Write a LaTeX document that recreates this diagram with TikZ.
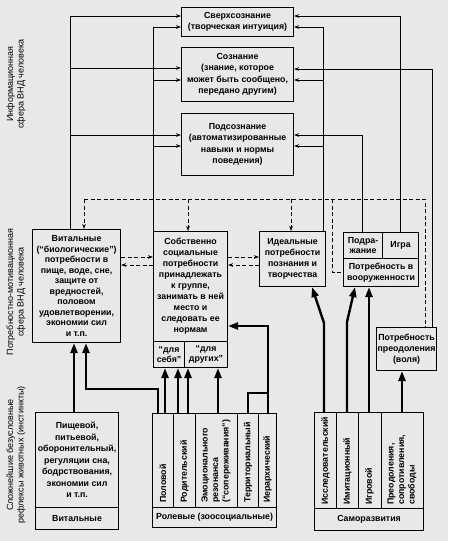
\documentclass[tikz,border=0pt]{standalone}
\usepackage{fontspec}
\setmainfont{Liberation Sans}
\usetikzlibrary{arrows.meta}
\newcommand\dgf[1]{\fontsize{8.8}{#1}\selectfont\bfseries}
\begin{document}
\begin{tikzpicture}[x=1pt,y=-1pt,
  box/.style={draw,line width=1.1pt,anchor=north west,inner sep=0pt,align=center,font={\dgf{10.5}}},
  rot/.style={rotate=90,anchor=west,inner sep=0pt,align=left,font={\dgf{10.5}}},
  side/.style={rotate=90,inner sep=0pt,align=center,font={\fontsize{9}{10.5}\selectfont}},
  conn/.style={line width=0.8pt,-{Stealth[length=5pt,width=3.6pt]}},
  dsh/.style={line width=0.8pt,dash pattern=on 4pt off 2.5pt},
  dsharr/.style={dsh,-{Stealth[length=5pt,width=3.6pt]}},
  thk/.style={line width=2.4pt,-{Triangle[length=10pt,width=7pt]}},
  thkline/.style={line width=2.4pt}]
\useasboundingbox[fill=black!9] (0,0) rectangle (448,541);

% upper (information) boxes
\node[box,font={\dgf{11.5}},minimum width=112pt,minimum height=29pt] (sup) at (181,7) {Сверхсознание\\(творческая интуиция)};
\node[box,font={\dgf{11.5}},minimum width=112pt,minimum height=54pt] (con) at (181,47) {Сознание\\(знание, которое\\может быть сообщено,\\передано другим)};
\node[box,font={\dgf{11.5}},minimum width=112pt,minimum height=62pt] (sub) at (181,113) {Подсознание\\(автоматизированные\\навыки и нормы\\поведения)};

% need boxes
\node[box,minimum width=88pt,minimum height=113pt] (vit) at (32,229) {Витальные\\(“биологические”)\\потребности в\\пище, воде, сне,\\защите от\\вредностей,\\половом\\удовлетворении,\\экономии сил\\и т.п.};
\node[box,font={\dgf{11}},minimum width=74pt,minimum height=110pt] (soc) at (153,231) {Собственно\\социальные\\потребности\\принадлежать\\к группе,\\занимать в ней\\место и\\следовать ее\\нормам};
\node[box,minimum width=31pt,minimum height=26pt] (ds) at (153,341) {“для\\себя”};
\node[box,minimum width=43pt,minimum height=26pt] (dd) at (184,341) {“для\\других”};
\node[box,font={\dgf{11}},minimum width=66pt,minimum height=55pt] (ide) at (259,231) {Идеальные\\потребности\\познания и\\творчества};
\node[box,minimum width=39pt,minimum height=26pt] (podr) at (343,232) {Подра-\\жание};
\node[box,minimum width=36pt,minimum height=26pt] (igra) at (382,232) {Игра};
\node[box,minimum width=75pt,minimum height=28pt] (voor) at (343,258) {Потребность в\\вооруженности};
\node[box,font={\dgf{11}},minimum width=60pt,minimum height=43pt] (preo) at (376,327) {Потребность\\преодоления\\(воля)};

% instinct boxes
\node[box,font={\dgf{11.5}},minimum width=83pt,minimum height=95pt] (inst) at (35,412) {Пищевой,\\питьевой,\\оборонительный,\\регуляции сна,\\бодрствования,\\экономии сил\\и т.п.};
\node[box,minimum width=83pt,minimum height=22pt] (instb) at (35,507) {Витальные};

\node[box,minimum width=21pt,minimum height=94pt] (c1) at (152,413) {};
\node[box,minimum width=22pt,minimum height=94pt] (c2) at (173,413) {};
\node[box,minimum width=42pt,minimum height=94pt] (c3) at (195,413) {};
\node[box,minimum width=21pt,minimum height=94pt] (c4) at (237,413) {};
\node[box,minimum width=18pt,minimum height=94pt] (c5) at (258,413) {};
\node[box,minimum width=124pt,minimum height=20pt] (rolb) at (152,507) {Ролевые (зоосоциальные)};
\node[rot] (tc1) at (163,503) {Половой};
\node[rot] (tc2) at (184.5,503) {Родительский};
\node[rot] (tc3) at (216,503) {Эмоционального\\резонанса\\(“сопереживания”)};
\node[rot] (tc4) at (248,503) {Территориальный};
\node[rot] (tc5) at (267.5,503) {Иерархический};

\node[box,minimum width=22pt,minimum height=96pt] (s1) at (314,412) {};
\node[box,minimum width=22pt,minimum height=96pt] (s2) at (336,412) {};
\node[box,minimum width=23pt,minimum height=96pt] (s3) at (358,412) {};
\node[box,minimum width=42pt,minimum height=96pt] (s4) at (381,412) {};
\node[box,minimum width=109pt,minimum height=22pt] (selb) at (314,508) {Саморазвития};
\node[rot] (ts1) at (325.5,505) {Исследовательский};
\node[rot] (ts2) at (347.5,505) {Имитационный};
\node[rot] (ts3) at (369.5,505) {Игровой};
\node[rot] (ts4) at (402,505) {Преодоления,\\сопротивления,\\свободы};

% side labels
\node[side] (lab1) at (16,84) {Информационная\\сфера ВНД человека};
\node[side] (lab2) at (16,292) {Потребностно-мотивационная\\сфера ВНД человека};
\node[side] (lab3) at (16,455) {Сложнейшие безусловные\\рефлексы животных (инстинкты)};

% helper coordinates
\coordinate (xa) at (70,0);
\coordinate (xc) at (323,0);
\coordinate (xd) at (362,0);
\coordinate (xe) at (400,0);
\coordinate (xf) at (432,0);
\coordinate (h16) at (0,16);
\coordinate (h27) at (0,27);
\coordinate (h68) at (0,68);
\coordinate (h69) at (0,69);
\coordinate (h80) at (0,80);
\coordinate (h135) at (0,135);
\coordinate (h146) at (0,146);

% thin connectors to information boxes
\draw[conn] (vit.north -| xa) -- (xa |- h16) -- (sup.west |- h16);
\draw[conn] (xa |- h68) -- (con.west |- h68);
\draw[conn] (xa |- h135) -- (sub.west |- h135);
\draw[conn] (soc.north west) -- (soc.north west |- h27) -- (sup.west |- h27);
\draw[conn] (soc.north west |- h80) -- (con.west |- h80);
\draw[conn] (soc.north west |- h146) -- (sub.west |- h146);
\draw[conn] (ide.north -| xc) -- (xc |- h27) -- (sup.east |- h27);
\draw[conn] (xc |- h80) -- (con.east |- h80);
\draw[conn] (xc |- h146) -- (sub.east |- h146);
\draw[conn] (podr.north -| xd) -- (xd |- h135) -- (sub.east |- h135);
\draw[conn] (igra.north -| xe) -- (xe |- h16) -- (sup.east |- h16);
\draw[conn] (preo.north -| xf) -- (xf |- h69) -- (con.east |- h69);

% dashed connectors
\coordinate (dL) at (84,199);
\coordinate (d2) at (188,199);
\coordinate (d3) at (291,199);
\coordinate (d4) at (332,199);
\coordinate (d4b) at (332,272);
\coordinate (dR) at (425,199);
\coordinate (p1) at (0,257);
\coordinate (p2) at (0,265);
\draw[dsh] (dL) -- (dR) -- (preo.north -| dR);
\draw[dsharr] (dL) -- (vit.north -| dL);
\draw[dsharr] (d2) -- (soc.north -| d2);
\draw[dsharr] (d3) -- (ide.north -| d3);
\draw[dsh] (d4) -- (d4b) -- (voor.west |- d4b);
\draw[dsharr] (vit.east |- p1) -- (soc.west |- p1);
\draw[dsharr] (soc.west |- p2) -- (vit.east |- p2);
\draw[dsharr] (soc.east |- p1) -- (ide.west |- p1);
\draw[dsharr] (ide.west |- p2) -- (soc.east |- p2);

% thick arrows from instincts
\coordinate (t1) at (74,0);
\coordinate (t2a) at (86,389);
\coordinate (t2b) at (158,389);
\coordinate (t3) at (165,0);
\coordinate (t4) at (178,0);
\coordinate (t5) at (188,0);
\coordinate (t6) at (218,0);
\coordinate (t7) at (268,326);
\coordinate (t8) at (248,393);
\coordinate (t9) at (324,323);
\coordinate (t9b) at (312,0);
\coordinate (t10) at (347,322);
\coordinate (t10b) at (355,0);
\coordinate (t11) at (369,0);
\coordinate (t12) at (402,0);
\draw[thk] (inst.north -| t1) -- (vit.south -| t1);
\draw[thk] (c1.north -| t2b) -- (t2b) -- (t2a) -- (vit.south -| t2a);
\draw[thk] (c1.north -| t3) -- (ds.south -| t3);
\draw[thk] (c2.north -| t4) -- (ds.south -| t4);
\draw[thk] (c2.north -| t5) -- (dd.south -| t5);
\draw[thk] (c3.north -| t6) -- (dd.south -| t6);
\draw[thk] (c5.north -| t7) -- (t7) -- (soc.east |- t7);
\draw[thkline] (c4.north -| t8) -- (t8) -- (t8 -| t7);
\draw[thk] (s1.north -| t9) -- (t9) -- (ide.south -| t9b);
\draw[thk] (s2.north -| t10) -- (t10) -- (voor.south -| t10b);
\draw[thk] (s3.north -| t11) -- (voor.south -| t11);
\draw[thk] (s4.north -| t12) -- (preo.south -| t12);
\end{tikzpicture}
\end{document}
